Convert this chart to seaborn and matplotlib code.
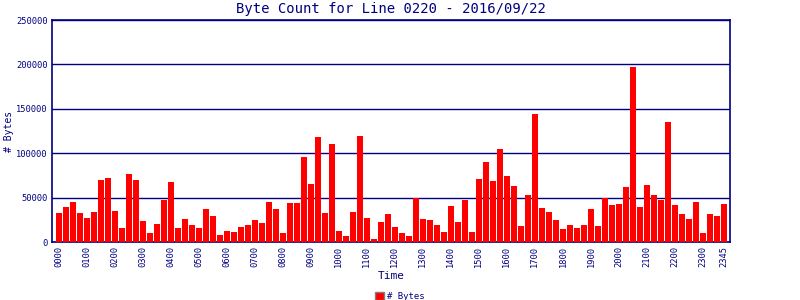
import matplotlib
matplotlib.use("Agg")
import matplotlib.pyplot as plt
from matplotlib.patches import Patch
import seaborn as sns
import pandas as pd

times = [f"{h:02d}{m:02d}" for h in range(24) for m in (0, 15, 30, 45)]
byte_counts = [
    32900, 39700, 45300, 32900, 27300, 34000, 70000, 72300, 35100, 16100,
    76800, 70000, 23900, 10500, 20600, 47600, 67700, 16100, 25400, 18700,
    16100, 37400, 29600, 8200, 12700, 11600, 17200, 19300, 25000, 21700,
    45300, 37400, 10500, 44200, 44200, 95900, 65500, 118400, 32900, 110500,
    12700, 7100, 34100, 119500, 27300, 3700, 22800, 31800, 17200, 10500,
    7100, 49000, 26200, 25000, 19300, 11600, 40400, 22800, 47600, 11600,
    71100, 90200, 68900, 104800, 74400, 63300, 18200, 53100, 144200, 38500,
    34100, 25000, 14900, 19300, 16100, 19300, 37400, 18200, 49800, 41900,
    43000, 62100, 197000, 39700, 64400, 53100, 47600, 135100, 41900, 31800,
    26200, 45300, 10500, 31800, 29600, 43000,
]
tick_labels = ["0000", "0100", "0200", "0300", "0400", "0500", "0600", "0700",
               "0800", "0900", "1000", "1100", "1200", "1300", "1400", "1500",
               "1600", "1700", "1800", "1900", "2000", "2100", "2200", "2300",
               "2345"]
y_ticks = [0, 50000, 100000, 150000, 200000, 250000]

navy = "#000080"
df = pd.DataFrame({"Time": times, "Bytes": byte_counts})

sns.set_style("white")
plt.rcParams["font.family"] = ["DejaVu Sans Mono", "DejaVu Sans"]

fig = plt.figure(figsize=(8, 3), dpi=100)
ax = fig.add_axes([0.065, 0.1933, 0.8475, 0.74])

sns.barplot(data=df, x="Time", y="Bytes", color="#FF0000", saturation=1,
            width=0.86, ax=ax, linewidth=0, errorbar=None, zorder=3)

ax.set_xlim(-0.95, 95.85)
ax.set_ylim(0, 250000)
ax.set_yticks(y_ticks)
ax.set_yticklabels([str(v) for v in y_ticks], fontsize=6.3, color=navy)
pos = [times.index(t) for t in tick_labels]
ax.set_xticks(pos)
ax.set_xticklabels(tick_labels, rotation=90, fontsize=6.3, color=navy)
ax.tick_params(axis="both", length=0, pad=3)
ax.yaxis.grid(True, color=navy, linewidth=1.0, zorder=0)
ax.xaxis.grid(False)
for s in ax.spines.values():
    s.set_color(navy)
    s.set_linewidth(1.2)
    s.set_visible(True)

ax.set_title("Byte Count for Line 0220 - 2016/09/22", color=navy, fontsize=10, pad=5)
ax.set_xlabel("Time", color=navy, fontsize=8, labelpad=3)
ax.set_ylabel("# Bytes", color=navy, fontsize=7, labelpad=2)

handle = Patch(facecolor="#FF0000", edgecolor="gray", linewidth=1, label="# Bytes")
leg = fig.legend(handles=[handle], loc="lower center", bbox_to_anchor=(0.5, -0.03),
                 frameon=False, fontsize=6.5, handlelength=1.0, handleheight=0.9,
                 handletextpad=0.3)
for t in leg.get_texts():
    t.set_color(navy)

fig.savefig("out.png", dpi=100)
